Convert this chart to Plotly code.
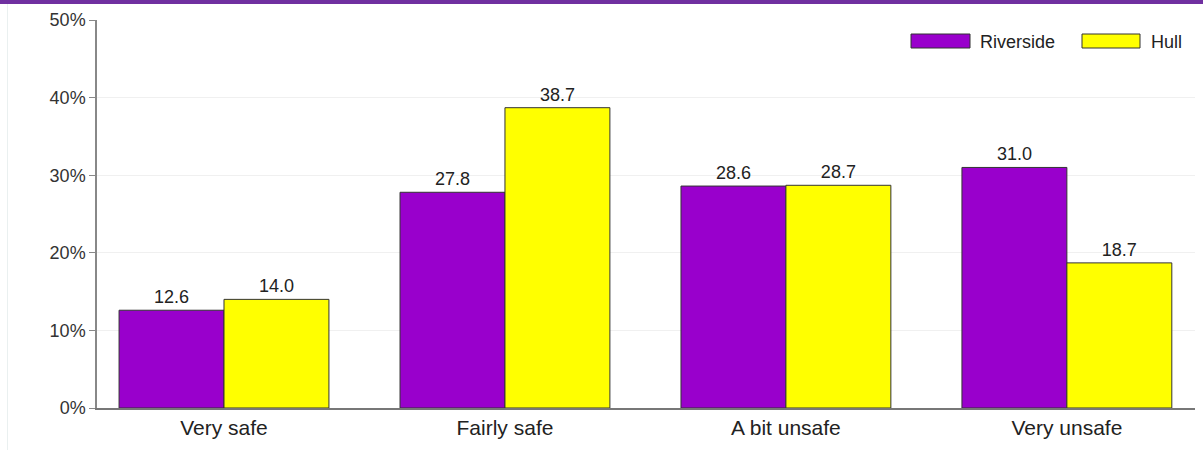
import plotly.graph_objects as go

categories = ["Very safe", "Fairly safe", "A bit unsafe", "Very unsafe"]
riverside = [12.6, 27.8, 28.6, 31.0]
hull = [14.0, 38.7, 28.7, 18.7]
series_names = ["Riverside", "Hull"]
y_ticks = [0, 10, 20, 30, 40, 50]

PURPLE = "#9900CC"
YELLOW = "#FFFF00"
FONT = "Liberation Sans, Arial, sans-serif"

fig = go.Figure()
for name, vals, col in [(series_names[0], riverside, PURPLE), (series_names[1], hull, YELLOW)]:
    fig.add_trace(go.Bar(
        x=categories, y=vals, name=name,
        marker=dict(color=col, line=dict(color="#333333", width=1)),
        text=[f"{v:.1f}" for v in vals], textposition="outside",
        textfont=dict(family=FONT, size=18, color="#222222"),
        cliponaxis=False, showlegend=False,
    ))

L, R, T, B = 97, 8, 20, 42
W, H = 1203, 450
pw, ph = W - L - R, H - T - B

def px(x):
    return (x - L) / pw

def py(y):
    return (H - B - y) / ph

shapes = [
    # top purple band
    dict(type="rect", xref="paper", yref="paper", x0=px(0), x1=px(1203), y0=py(4), y1=py(0),
         fillcolor="#7030A0", line=dict(width=0), layer="above"),
    # faint container edge on the left
    dict(type="line", xref="paper", yref="paper", x0=px(7.5), x1=px(7.5), y0=py(450), y1=py(4),
         line=dict(color="#EAF0F0", width=1)),
    # legend swatches
    dict(type="rect", xref="paper", yref="paper", x0=px(911), x1=px(970), y0=py(48), y1=py(34),
         fillcolor=PURPLE, line=dict(color="#333333", width=1)),
    dict(type="rect", xref="paper", yref="paper", x0=px(1082), x1=px(1140), y0=py(48), y1=py(34),
         fillcolor=YELLOW, line=dict(color="#333333", width=1)),
]
annotations = [
    dict(xref="paper", yref="paper", x=px(978), y=py(42), text=series_names[0], showarrow=False,
         xanchor="left", yanchor="middle", font=dict(family=FONT, size=18, color="#222222")),
    dict(xref="paper", yref="paper", x=px(1149), y=py(42), text=series_names[1], showarrow=False,
         xanchor="left", yanchor="middle", font=dict(family=FONT, size=18, color="#222222")),
]

fig.update_layout(
    width=W, height=H,
    margin=dict(l=L, r=R, t=T, b=B),
    paper_bgcolor="white", plot_bgcolor="white",
    barmode="group", bargap=0.253, bargroupgap=0,
    font=dict(family=FONT, color="#333333"),
    shapes=shapes, annotations=annotations,
    xaxis=dict(
        range=[-0.452, 3.456], showgrid=False,
        showline=True, linecolor="#777777", linewidth=1.5,
        ticks="", ticklen=2, tickfont=dict(family=FONT, size=21, color="#222222"),
    ),
    yaxis=dict(
        range=[0, 50], tickvals=y_ticks, ticktext=[f"{v}%" for v in y_ticks],
        showgrid=True, gridcolor="#F0F0F0", gridwidth=1,
        showline=True, linecolor="#888888", linewidth=1.5,
        ticks="outside", ticklen=6, tickcolor="#888888",
        tickfont=dict(family=FONT, size=18, color="#333333"),
        zeroline=False,
    ),
)

fig.write_html("out.html", config={"displayModeBar": False},
               post_script="document.body.style.margin='0';")
